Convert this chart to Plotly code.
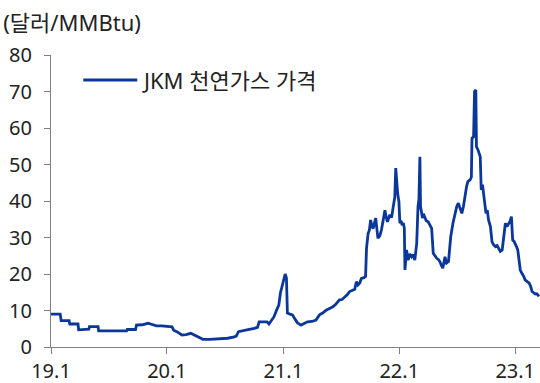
import plotly.graph_objects as go

# JKM spot LNG price, USD/MMBtu
dates = [
    "2019-01-01", "2019-01-30", "2019-02-02", "2019-02-27", "2019-03-01", "2019-03-27",
    "2019-03-29", "2019-04-15", "2019-04-30", "2019-05-02", "2019-05-29", "2019-05-31",
    "2019-06-20", "2019-07-10", "2019-07-25", "2019-08-10", "2019-08-27", "2019-08-29",
    "2019-09-24", "2019-09-27", "2019-10-15", "2019-11-02", "2019-11-15", "2019-11-29",
    "2019-12-15",
    "2020-01-01", "2020-01-17", "2020-01-22", "2020-02-01", "2020-02-17", "2020-03-01",
    "2020-03-16", "2020-03-28", "2020-04-07", "2020-04-23", "2020-05-15", "2020-06-01",
    "2020-06-20", "2020-07-10", "2020-07-31", "2020-08-06", "2020-08-13", "2020-08-30",
    "2020-09-16", "2020-10-02", "2020-10-12", "2020-10-17", "2020-11-11", "2020-11-17",
    "2020-11-25", "2020-12-03", "2020-12-11", "2020-12-18", "2020-12-23",
    "2021-01-01", "2021-01-07", "2021-01-11", "2021-01-14", "2021-01-22", "2021-01-30",
    "2021-02-08", "2021-02-15", "2021-02-26", "2021-03-08", "2021-03-18", "2021-04-01",
    "2021-04-14", "2021-04-25", "2021-05-05", "2021-05-16", "2021-05-26", "2021-06-06",
    "2021-06-16", "2021-06-27", "2021-07-05", "2021-07-13", "2021-07-22", "2021-07-29",
    "2021-08-06", "2021-08-14", "2021-08-19", "2021-08-24", "2021-08-30", "2021-09-04",
    "2021-09-12", "2021-09-17", "2021-09-20", "2021-09-25", "2021-09-29", "2021-10-03",
    "2021-10-07", "2021-10-11", "2021-10-15", "2021-10-19", "2021-10-23", "2021-10-26",
    "2021-11-01", "2021-11-06", "2021-11-11", "2021-11-17", "2021-11-21", "2021-11-25",
    "2021-12-02", "2021-12-08", "2021-12-13", "2021-12-18", "2021-12-21", "2021-12-24",
    "2021-12-27", "2021-12-31",
    "2022-01-03", "2022-01-07", "2022-01-10", "2022-01-14", "2022-01-17", "2022-01-19",
    "2022-01-24", "2022-01-29", "2022-02-03", "2022-02-09", "2022-02-14", "2022-02-19",
    "2022-02-25", "2022-03-01", "2022-03-04", "2022-03-07", "2022-03-09", "2022-03-12",
    "2022-03-15", "2022-03-18", "2022-03-22", "2022-03-27", "2022-04-02", "2022-04-08",
    "2022-04-13", "2022-04-18", "2022-04-23", "2022-04-29", "2022-05-04", "2022-05-09",
    "2022-05-13", "2022-05-18", "2022-05-25", "2022-05-30", "2022-06-05", "2022-06-12",
    "2022-06-19", "2022-06-26", "2022-07-01", "2022-07-06", "2022-07-12", "2022-07-17",
    "2022-07-22", "2022-07-27", "2022-08-01", "2022-08-05", "2022-08-12", "2022-08-16",
    "2022-08-18", "2022-08-23", "2022-08-26", "2022-08-30", "2022-09-01", "2022-09-06",
    "2022-09-13", "2022-09-16", "2022-09-20", "2022-09-24", "2022-09-28", "2022-10-01",
    "2022-10-05", "2022-10-09", "2022-10-15", "2022-10-20", "2022-10-25", "2022-10-31",
    "2022-11-05", "2022-11-10", "2022-11-15", "2022-11-21", "2022-11-26", "2022-12-01",
    "2022-12-06", "2022-12-11", "2022-12-16", "2022-12-20", "2022-12-24", "2022-12-28",
    "2023-01-01", "2023-01-05", "2023-01-09", "2023-01-13", "2023-01-17", "2023-01-22",
    "2023-01-27", "2023-02-01", "2023-02-07", "2023-02-14", "2023-02-19", "2023-02-23",
    "2023-03-01", "2023-03-05", "2023-03-10", "2023-03-15", "2023-03-17",
]
prices = [
    9.0, 9.0, 7.2, 7.2, 6.3, 6.3,
    4.7, 4.8, 4.9, 5.6, 5.6, 4.4,
    4.4, 4.3, 4.2, 4.3, 4.4, 4.8,
    4.8, 6.0, 6.1, 6.5, 6.2, 5.8,
    5.8,
    5.6, 5.5, 4.6, 4.2, 3.3, 3.4,
    3.75, 3.3, 2.8, 2.1, 2.1, 2.2,
    2.2, 2.4, 2.8, 3.0, 4.2, 4.4,
    4.8, 5.1, 5.4, 6.9, 6.9, 6.3,
    7.2, 8.3, 10.1, 11.5, 14.8,
    17.5, 20.0, 18.9, 9.3, 9.0, 8.8,
    7.5, 6.6, 6.0, 6.4, 6.9, 7.0,
    7.4, 8.8, 9.3, 10.1, 10.5, 11.0,
    11.8, 12.9, 13.0, 13.6, 14.4, 15.2,
    15.5, 15.8, 17.9, 17.0, 17.6, 18.8,
    19.0, 19.3, 27.0, 31.1, 32.0, 34.8,
    33.0, 32.5, 34.0, 35.3, 32.0, 29.8,
    30.5, 32.1, 34.5, 37.5, 35.5, 34.3,
    36.2, 35.5, 38.4, 41.0, 49.0, 44.5,
    42.1, 39.8,
    33.9, 34.6, 33.4, 34.0, 32.5, 21.1,
    26.6, 23.8, 25.5, 24.7, 25.3, 23.8,
    28.4, 38.4, 40.5, 52.1, 38.4, 37.0,
    35.3, 36.5, 35.7, 34.6, 34.3, 33.5,
    32.5, 25.7, 25.0, 24.3, 24.0, 23.4,
    22.5, 21.6, 24.7, 23.0, 23.4, 30.2,
    33.9, 37.1, 38.5, 39.4, 38.0, 36.6,
    38.5, 42.1, 44.0, 45.3, 45.8, 46.5,
    57.2, 57.6, 70.0, 70.4, 54.9, 54.0,
    52.1, 43.0, 44.5, 41.6, 39.0, 36.6,
    37.5, 34.8, 33.0, 28.8, 28.0, 27.5,
    27.8, 27.0, 26.2, 26.6, 30.2, 33.9,
    33.0, 33.9, 34.5, 35.7, 29.3, 29.0,
    28.4, 27.5, 26.6, 24.0, 21.1, 20.2,
    19.5, 18.4, 18.0, 17.5, 16.5, 15.2,
    14.8, 14.5, 14.6, 14.2, 13.9,
]

year_ticks = ["2019-01-01", "2020-01-01", "2021-01-01", "2022-01-01", "2023-01-01"]
year_labels = ["19.1", "20.1", "21.1", "22.1", "23.1"]

series_name = "JKM 천연가스 가격"
unit_label = "(달러/MMBtu)"

line_color = "#0a3799"
axis_color = "#7f7f7f"
text_color = "#222222"
font_family = "Noto Sans, Noto Sans CJK KR, sans-serif"

fig = go.Figure()
fig.add_trace(go.Scatter(
    x=dates, y=prices, mode="lines", name=series_name,
    line=dict(color=line_color, width=2.8),
    showlegend=False,
))

# legend key: sample line plus label inside the plot area
fig.add_shape(type="line", xref="paper", yref="paper",
              x0=(83 - 50.7) / 489.3, x1=(137 - 50.7) / 489.3,
              y0=(347 - 80) / 292, y1=(347 - 80) / 292,
              line=dict(color=line_color, width=2.8))
fig.add_annotation(text=series_name, xref="paper", yref="paper",
                   x=(140 - 50.7) / 489.3, y=(347 - 80) / 292,
                   xanchor="left", yanchor="middle", showarrow=False,
                   font=dict(size=22, color=text_color, family=font_family))

fig.update_layout(
    width=540, height=383,
    margin=dict(l=50.7, r=0, t=55, b=36),
    paper_bgcolor="white", plot_bgcolor="white",
    font=dict(family=font_family, size=20, color=text_color),
    title=dict(text=unit_label, xref="container", yref="container",
               x=0.006, y=1 - 23 / 383, xanchor="left", yanchor="middle",
               automargin=False,
               font=dict(size=22, color=text_color, family=font_family)),
    xaxis=dict(
        range=["2019-01-01", "2023-03-20"],
        tickvals=year_ticks, ticktext=year_labels,
        automargin=False,
        showgrid=False, zeroline=False,
        showline=True, linecolor=axis_color, linewidth=1.3,
        ticks="outside", ticklen=6, tickcolor=axis_color, tickwidth=1.3,
        ticklabelstandoff=0,
        tickfont=dict(size=20, color=text_color),
    ),
    yaxis=dict(
        range=[0, 80], dtick=10, tick0=0,
        automargin=False,
        showgrid=False, zeroline=False,
        showline=True, linecolor=axis_color, linewidth=1.3,
        ticks="outside", ticklen=6, tickcolor=axis_color, tickwidth=1.3,
        ticklabelstandoff=8,
        tickfont=dict(size=20, color=text_color),
    ),
)

fig.write_html("out.html")
